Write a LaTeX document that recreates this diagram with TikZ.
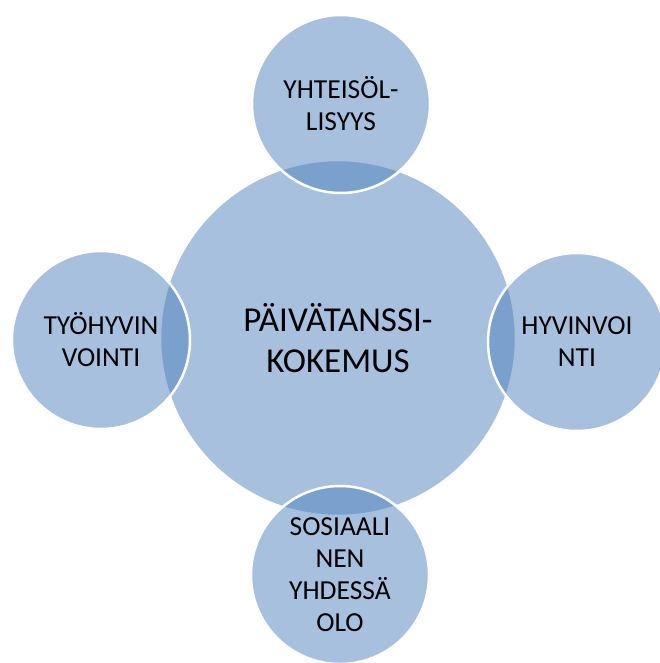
\documentclass[tikz,border=0pt]{standalone}
\usepackage{fontspec}
\setmainfont{Carlito}
\definecolor{officeblue}{RGB}{79,129,189}
\begin{document}
\begin{tikzpicture}[x=1pt,y=-1pt,
  bubble/.style={circle,inner sep=0pt,fill=officeblue,fill opacity=0.5,text opacity=1,
    draw=white,line width=2.5pt,align=center,text=black},
  hub/.style={bubble,minimum size=356pt,font=\fontsize{35}{41}\selectfont},
  petal/.style={bubble,minimum size=178pt,font=\fontsize{27.5}{32}\selectfont}]
\useasboundingbox (0,0) rectangle (659,663);
\node[hub] (c) at (338,338) {PÄIVÄTANSSI-\\KOKEMUS};
\node[petal] (t) at (341,104) {YHTEISÖL-\\LISYYS};
\node[petal] (l) at (101,340) {TYÖHYVIN\\VOINTI};
\node[petal] (r) at (577,342) {HYVINVOI\\NTI};
\node[petal] (b) at (340,575) {SOSIAALI\\NEN\\YHDESSÄ\\OLO};
\end{tikzpicture}
\end{document}
